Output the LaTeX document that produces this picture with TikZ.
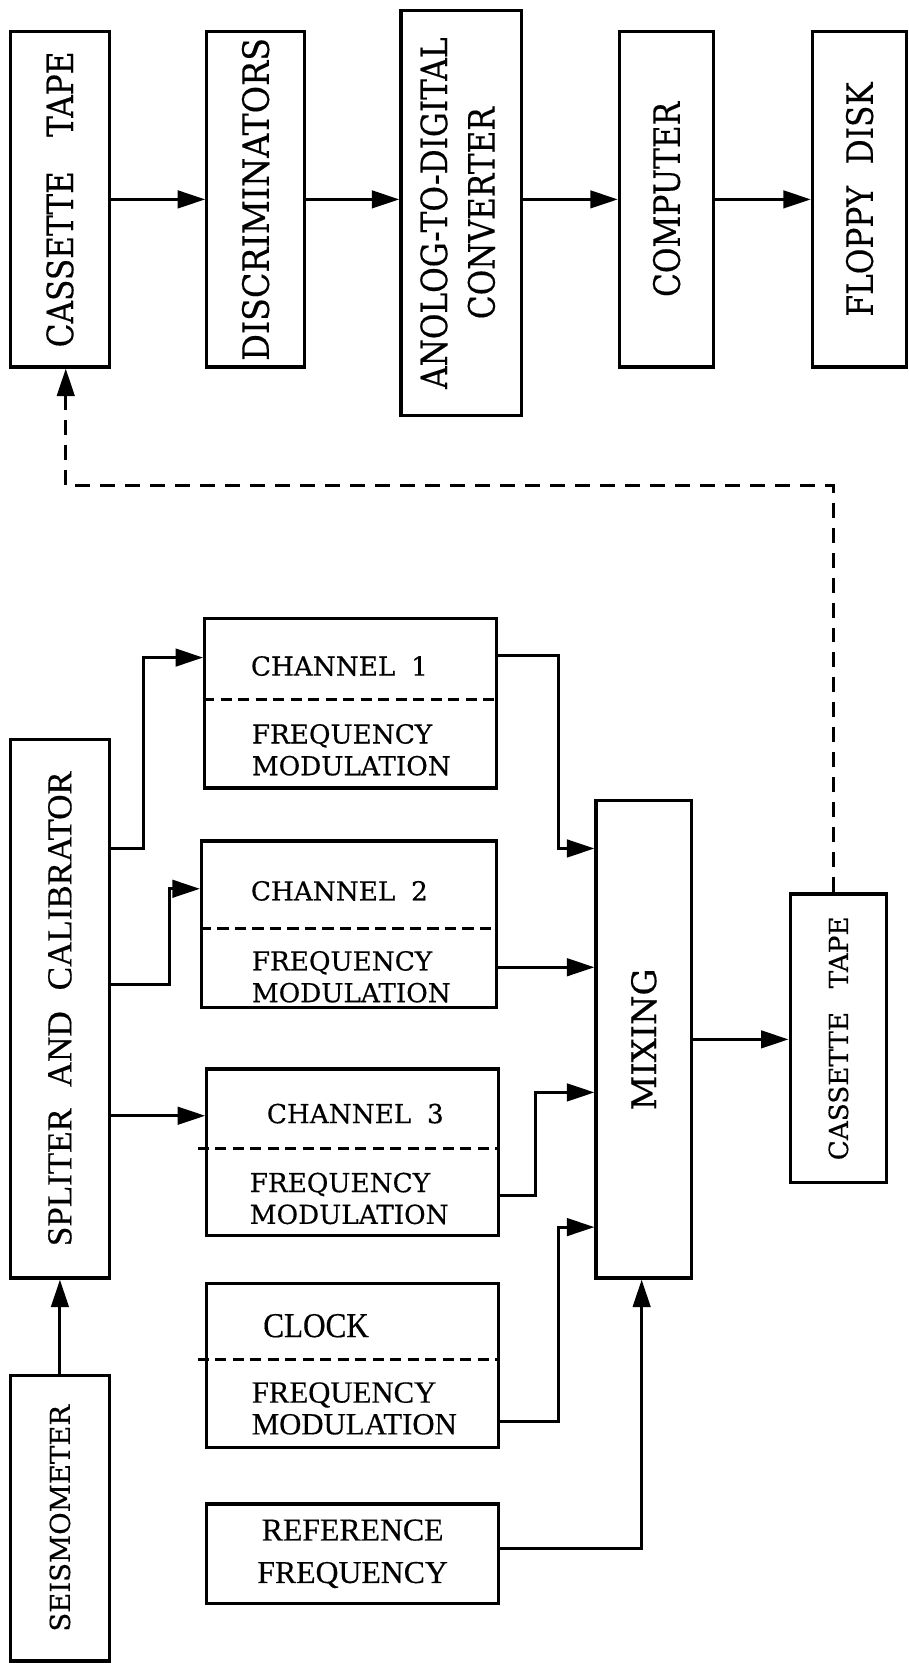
\documentclass[tikz,border=0pt]{standalone}
\usepackage{fontspec}
\usepackage{graphicx}
\setmainfont{DejaVu Serif}[FakeBold=0.4]
\newfontfamily\timesfont{Liberation Serif}[FakeBold=0.4]
\usetikzlibrary{arrows.meta}

\newlength{\pxu}
\setlength{\pxu}{0.4243pt}

\tikzset{
  block/.style={draw, line width=1.3pt, inner sep=0pt, align=center},
  dims/.style 2 args={minimum width=#1*\pxu, minimum height=#2*\pxu},
  toptext/.style={font=\fontsize{14.5}{19}\selectfont},
  chantext/.style={inner sep=0pt, font=\fontsize{10.5}{12.7}\selectfont},
  fmtext/.style={chantext, anchor=west, align=left},
  timestext/.style={inner sep=0pt, align=center, font=\timesfont\fontsize{12.5}{17}\selectfont},
  link/.style={line width=1.2pt, -{Triangle[length=11pt,width=7pt]}},
  tapelink/.style={link, dash pattern=on 6pt off 4pt},
  divider/.style={line width=1.2pt, dash pattern=on 4.5pt off 2.5pt},
}

\begin{document}
\begin{tikzpicture}[x=\pxu, y=-\pxu]
\useasboundingbox (0,0) rectangle (857,1568);

% playback chain (top row)
\node[block, dims={93}{316}, toptext] (tapeA) at (56.5,188)
  {\rotatebox{90}{\scalebox{0.86}[1]{CASSETTE\hspace{1.1em}TAPE}}};
\node[block, dims={92}{316}, toptext] (disc) at (241,188)
  {\rotatebox{90}{\scalebox{0.92}[1]{DISCRIMINATORS}}};
\node[block, dims={114}{382}, toptext] (adc) at (435,201)
  {\rotatebox{90}{\scalebox{0.86}[1]{\begin{tabular}{@{}c@{}}ANOLOG-TO-DIGITAL\\CONVERTER\end{tabular}}}};
\node[block, dims={89}{316}, toptext] (comp) at (628.5,188)
  {\rotatebox{90}{\scalebox{0.86}[1]{COMPUTER}}};
\node[block, dims={89}{316}, toptext] (floppy) at (810.5,188)
  {\rotatebox{90}{\scalebox{0.86}[1]{FLOPPY\hspace{0.7em}DISK}}};

\draw[link] (tapeA.east) -- (disc.west);
\draw[link] (disc.east) -- (disc.east -| adc.west);
\draw[link] (adc.east |- comp.west) -- (comp.west);
\draw[link] (comp.east) -- (floppy.west);

% recording side
\node[block, dims={93}{508}, font=\timesfont\fontsize{14}{17}\selectfont] (split) at (56.5,951)
  {\rotatebox{90}{SPLITER\hspace{0.6em}AND\hspace{0.6em}CALIBRATOR}};
\node[block, dims={93}{269}, font=\fontsize{11}{14}\selectfont] (seis) at (56.5,1431.5) {\rotatebox{90}{SEISMOMETER}};
\draw[link] (seis.north) -- (split.south);

% channel boxes
\node[block, dims={275}{160}] (ch1) at (330.5,663) {};
\node[chantext] (ch1-t) at (320,628) {CHANNEL\hspace{0.6em}1};
\node[fmtext] (ch1-fm) at (237,707) {FREQUENCY\\MODULATION};
\draw[divider] (ch1.west |- 0,660) -- (ch1.east |- 0,660);

\node[block, dims={278}{157}] (ch2) at (329,871.5) {};
\node[chantext] (ch2-t) at (320,840) {CHANNEL\hspace{0.6em}2};
\node[fmtext] (ch2-fm) at (237,921) {FREQUENCY\\MODULATION};
\draw[divider] (ch2.west |- 0,875) -- (ch2.east |- 0,875);

\node[block, dims={275}{157}] (ch3) at (332.5,1086.5) {};
\node[chantext] (ch3-t) at (335,1050) {CHANNEL\hspace{0.6em}3};
\node[fmtext] (ch3-fm) at (235,1130) {FREQUENCY\\MODULATION};
\draw[divider] ([xshift=-3pt]ch3.west |- 0,1083) -- (ch3.east |- 0,1083);

\node[block, dims={275}{155}] (clk) at (332.5,1287.5) {};
\node[timestext, font=\timesfont\fontsize{14}{17}\selectfont] (clk-t) at (298,1250) {\scalebox{0.89}[1]{CLOCK}};
\node[timestext, anchor=west, align=left, font=\timesfont\fontsize{12.3}{12.7}\selectfont] (clk-fm) at (237,1328) {FREQUENCY\\MODULATION};
\draw[divider] ([xshift=-3pt]clk.west |- 0,1282) -- (clk.east |- 0,1282);

\node[block, dims={275}{94}, font=\timesfont\fontsize{12.7}{17}\selectfont] (ref) at (332.5,1465) {REFERENCE\\FREQUENCY};

% mixing and tape
\node[block, dims={90}{450}, font=\fontsize{13.5}{16}\selectfont] (mix) at (607,980) {\rotatebox{90}{MIXING}};
\node[block, dims={91}{272}, font=\fontsize{10.5}{13}\selectfont] (tapeB) at (790.5,979) {\rotatebox{90}{CASSETTE\hspace{0.9em}TAPE}};

% splitter to channels
\draw[link] (split.east |- 0,800) -| (135,620) -- (ch1.west |- 0,620);
\draw[link] (split.east |- 0,928) -| (160,838) -- (ch2.west |- 0,838);
\draw[link] (split.east |- 0,1052) -- (ch3.west |- 0,1052);

% channels to mixing
\draw[link] (ch1.east |- 0,618) -| (527,800) -- (mix.west |- 0,800);
\draw[link] (ch2.east |- 0,912) -- (mix.west |- 0,912);
\draw[link] (ch3.east |- 0,1127) -| (505,1030) -- (mix.west |- 0,1030);
\draw[link] (clk.east |- 0,1340) -| (527,1157) -- (mix.west |- 0,1157);
\draw[link] (ref.east |- 0,1460) -| ([xshift=-2*\pxu]mix.south);

\draw[link] (mix.east) -- (mix.east -| tapeB.west);

% tape carried back to playback
\coordinate (back) at (0,458);
\draw[tapelink] ([xshift=-5*\pxu]tapeB.north) -- ([xshift=-5*\pxu]tapeB.north |- back)
  -| ([xshift=5.5*\pxu]tapeA.south);

\end{tikzpicture}
\end{document}
